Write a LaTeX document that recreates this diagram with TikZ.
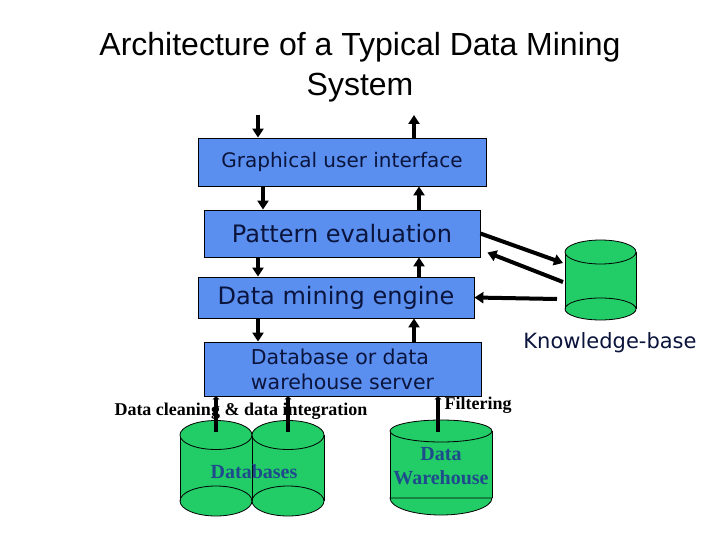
\documentclass[tikz,border=0pt]{standalone}
\usepackage{fontspec}
\setmainfont{Liberation Serif}
\newfontfamily\headfont{Liberation Sans}
\newfontfamily\layerfont{DejaVu Sans}
\usetikzlibrary{arrows.meta}
\definecolor{layerblue}{RGB}{90,143,240}
\definecolor{druggreen}{RGB}{34,204,102}
\definecolor{labelblue}{RGB}{30,75,140}
\definecolor{inkblue}{RGB}{10,20,60}
\tikzset{
  layer/.style={draw=black, line width=0.8bp, fill=layerblue, inner sep=0pt, text=inkblue},
  flow/.style={line width=4bp, -{Triangle[length=9bp,width=11bp]}},
  feed/.style={line width=4.5bp, -{Triangle[length=3bp,width=7bp]}},
  drum/.style={draw=black, line width=0.8bp, fill=druggreen},
  boldlabel/.style={font=\fontsize{18bp}{20bp}\selectfont\bfseries},
}
\begin{document}
\begin{tikzpicture}[x=1bp, y=1bp]
  \fill[white] (0,0) rectangle (720,-540);
  \useasboundingbox (0,0) rectangle (720,-540);
  \node[anchor=north, inner sep=0pt, align=center, font=\headfont\fontsize{32bp}{40bp}\selectfont] (title) at (360,-32) {Architecture of a Typical Data Mining\\System};

  \node[layer, minimum width=288bp, minimum height=48bp, font=\layerfont\fontsize{20bp}{24bp}\selectfont] (gui) at (342,-162) {Graphical user interface};
  \node[layer, minimum width=276bp, minimum height=47bp, font=\layerfont\fontsize{24bp}{28bp}\selectfont] (pe) at (342,-233.5) {Pattern evaluation};
  \node[layer, minimum width=276bp, minimum height=41bp, font=\layerfont\fontsize{24bp}{28bp}\selectfont] (dme) at (336,-297.5) {Data mining engine};
  \node[layer, minimum width=277bp, minimum height=54bp, align=left, font=\layerfont\fontsize{20.5bp}{25bp}\selectfont] (dbs) at (342.5,-369) {Database or data\\warehouse server};

  \coordinate (userin) at (258,-115);
  \coordinate (userout) at (414,-115);
  \draw[flow] (userin) -- (userin |- gui.north);
  \draw[flow] (userout |- gui.north) -- (userout);
  \draw[flow] (263,0 |- gui.south) -- (263,0 |- pe.north);
  \draw[flow] (419,0 |- pe.north) -- (419,0 |- gui.south);
  \draw[flow] (258,0 |- pe.south) -- (258,0 |- dme.north);
  \draw[flow] (419,0 |- dme.north) -- (419,0 |- pe.south);
  \draw[flow] (258,0 |- dme.south) -- (258,0 |- dbs.north);
  \draw[flow] (414,0 |- dbs.north) -- (414,0 |- dme.south);

  \fill[druggreen] (565,-252) rectangle (636,-309);
  \draw[drum] (600.5,-309) ellipse [x radius=35.5, y radius=11];
  \draw[line width=0.8bp] (565,-252) -- (565,-309) (636,-252) -- (636,-309);
  \draw[drum] (600.5,-252) ellipse [x radius=35.5, y radius=12];
  \node[font=\layerfont\fontsize{21bp}{24bp}\selectfont, text=inkblue] (kblabel) at (610,-343) {Knowledge-base};

  \coordinate (kbin) at (563,-263);
  \coordinate (kbout) at (563,-282);
  \coordinate (kbeng) at (557,-299);
  \draw[flow] (pe.east) -- (kbin);
  \draw[flow] (kbout) -- ([shift={(7,-19)}]pe.east);
  \draw[flow] (kbeng) -- (dme.east);

  \fill[druggreen] (180,-435) rectangle (252,-501);
  \draw[drum] (216,-501) ellipse [x radius=36, y radius=15];
  \draw[line width=0.8bp] (180,-435) -- (180,-501) (252,-435) -- (252,-501);
  \draw[drum] (216,-435) ellipse [x radius=36, y radius=14.5];
  \fill[druggreen] (252,-435) rectangle (324,-501);
  \draw[drum] (288,-501) ellipse [x radius=36, y radius=15];
  \draw[line width=0.8bp] (252,-435) -- (252,-501) (324,-435) -- (324,-501);
  \draw[drum] (288,-435) ellipse [x radius=36, y radius=14.5];
  \node[font=\fontsize{20bp}{24bp}\selectfont\bfseries, text=labelblue] (dblabel) at (254,-472) {Databases};

  \fill[druggreen] (390,-431) rectangle (492,-498);
  \draw[drum] (390,-498) arc[start angle=180, end angle=360, x radius=51, y radius=17] -- cycle;
  \draw[line width=0.8bp] (390,-431) -- (390,-498) (492,-431) -- (492,-498);
  \draw[drum] (441,-431) ellipse [x radius=51, y radius=11];
  \node[align=center, font=\fontsize{20bp}{24bp}\selectfont\bfseries, text=labelblue] (dwlabel) at (441,-466) {Data\\Warehouse};

  \node[boldlabel] (clean) at (241,-411) {Data cleaning \& data integration};
  \node[boldlabel] (filter) at (478,-405) {Filtering};

  \coordinate (dbleft) at (216,-432);
  \coordinate (dbright) at (288,-432);
  \coordinate (dwtop) at (438,-432);
  \draw[feed] (dbleft) -- (dbleft |- dbs.south);
  \draw[feed] (dbright) -- (dbright |- dbs.south);
  \draw[feed] (dwtop) -- (dwtop |- dbs.south);
\end{tikzpicture}
\end{document}
